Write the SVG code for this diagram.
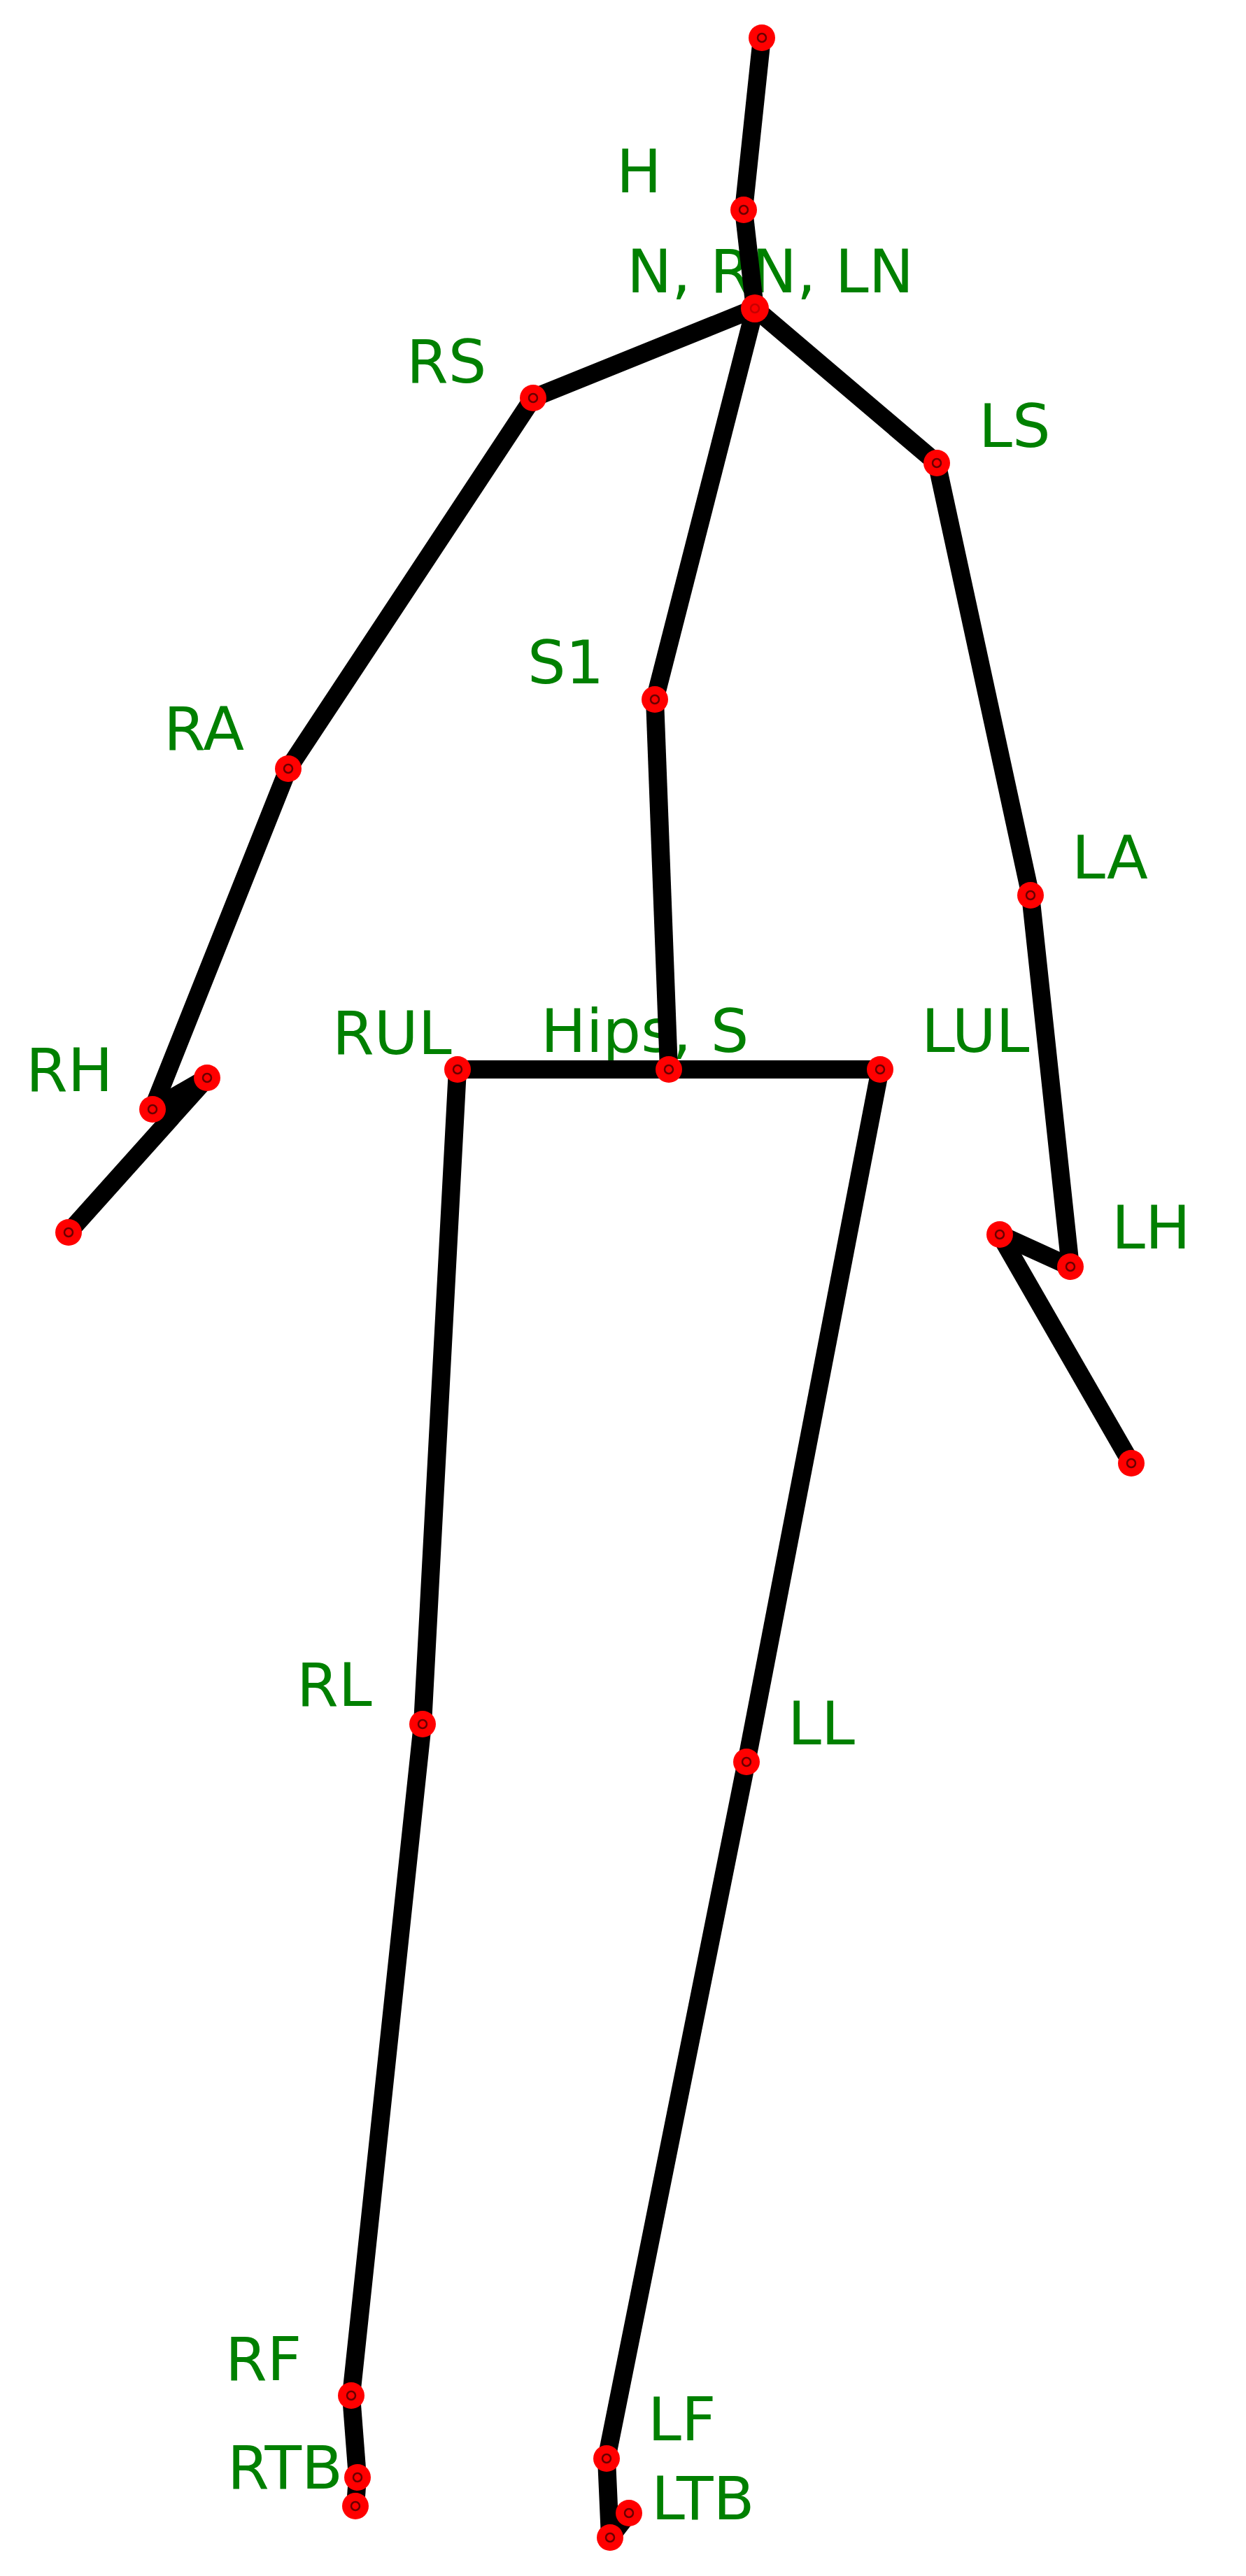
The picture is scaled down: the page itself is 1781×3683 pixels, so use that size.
<svg xmlns="http://www.w3.org/2000/svg" width="1781" height="3683" viewBox="0 0 1781 3683">
<style>
.lbl{font-family:"DejaVu Sans","Liberation Sans",sans-serif;font-size:86px;fill:#008000}
.bone{stroke:#000;stroke-width:26;stroke-linecap:square;fill:none}
.dot{fill:#ff0000}
.ring{fill:none;stroke:#6a0000;stroke-width:2.5}
.ring.faint{stroke:#c80000}
</style>
<defs>
<g id="joint"><circle class="dot" r="19"/><circle class="ring" r="6"/></g>
</defs>
<rect width="1781" height="3683" fill="#fff"/>
<g id="labels">
<text id="label-H" class="lbl" x="881" y="275">H</text>
<text id="label-N" class="lbl" x="896" y="418">N, RN, LN</text>
<text id="label-RS" class="lbl" x="581" y="547">RS</text>
<text id="label-LS" class="lbl" x="1399" y="639">LS</text>
<text id="label-S1" class="lbl" x="754" y="977">S1</text>
<text id="label-RA" class="lbl" x="234" y="1072">RA</text>
<text id="label-LA" class="lbl" x="1532" y="1256">LA</text>
<text id="label-RH" class="lbl" x="37" y="1560">RH</text>
<text id="label-RUL" class="lbl" x="475" y="1507">RUL</text>
<text id="label-Hips" class="lbl" x="773" y="1504">Hips, S</text>
<text id="label-LUL" class="lbl" x="1317" y="1504">LUL</text>
<text id="label-LH" class="lbl" x="1589" y="1785">LH</text>
<text id="label-RL" class="lbl" x="424" y="2439">RL</text>
<text id="label-LL" class="lbl" x="1126" y="2494">LL</text>
<text id="label-RF" class="lbl" x="322" y="3403">RF</text>
<text id="label-RTB" class="lbl" x="325" y="3558">RTB</text>
<text id="label-LF" class="lbl" x="926" y="3489">LF</text>
<text id="label-LTB" class="lbl" x="931" y="3602">LTB</text>
</g>
<g id="connectors" class="bone">
<line x1="1079" y1="441" x2="1063" y2="300"/>
<line x1="1063" y1="300" x2="1089" y2="54"/>
<line x1="1079" y1="441" x2="762" y2="569"/>
<line x1="762" y1="569" x2="412" y2="1099"/>
<line x1="412" y1="1099" x2="218" y2="1586"/>
<line x1="218" y1="1586" x2="296" y2="1541"/>
<line x1="296" y1="1541" x2="98" y2="1762"/>
<line x1="1079" y1="441" x2="1339" y2="662"/>
<line x1="1339" y1="662" x2="1473" y2="1280"/>
<line x1="1473" y1="1280" x2="1530" y2="1811"/>
<line x1="1530" y1="1811" x2="1429" y2="1765"/>
<line x1="1429" y1="1765" x2="1617" y2="2092"/>
<line x1="1079" y1="441" x2="936" y2="1000"/>
<line x1="936" y1="1000" x2="956" y2="1529"/>
<line x1="956" y1="1529" x2="654" y2="1529"/>
<line x1="956" y1="1529" x2="1258" y2="1529"/>
<line x1="654" y1="1529" x2="604" y2="2465"/>
<line x1="604" y1="2465" x2="502" y2="3425"/>
<line x1="502" y1="3425" x2="511" y2="3542"/>
<line x1="511" y1="3542" x2="508" y2="3583"/>
<line x1="1258" y1="1529" x2="1067" y2="2519"/>
<line x1="1067" y1="2519" x2="867" y2="3515"/>
<line x1="867" y1="3515" x2="872" y2="3628"/>
<line x1="872" y1="3628" x2="899" y2="3593"/>
</g>
<g id="node-top"><use href="#joint" x="1089" y="54"/></g>
<g id="node-H"><use href="#joint" x="1063" y="300"/></g>
<g id="node-N"><circle class="dot" cx="1079" cy="441" r="20"/><circle class="ring faint" cx="1079" cy="441" r="6"/></g>
<g id="node-RS"><use href="#joint" x="762" y="569"/></g>
<g id="node-RA"><use href="#joint" x="412" y="1099"/></g>
<g id="node-RH"><use href="#joint" x="218" y="1586"/></g>
<g id="node-RH2"><use href="#joint" x="296" y="1541"/></g>
<g id="node-RH3"><use href="#joint" x="98" y="1762"/></g>
<g id="node-LS"><use href="#joint" x="1339" y="662"/></g>
<g id="node-LA"><use href="#joint" x="1473" y="1280"/></g>
<g id="node-LH"><use href="#joint" x="1530" y="1811"/></g>
<g id="node-LH2"><use href="#joint" x="1429" y="1765"/></g>
<g id="node-LH3"><use href="#joint" x="1617" y="2092"/></g>
<g id="node-S1"><use href="#joint" x="936" y="1000"/></g>
<g id="node-Hips"><use href="#joint" x="956" y="1529"/></g>
<g id="node-RUL"><use href="#joint" x="654" y="1529"/></g>
<g id="node-LUL"><use href="#joint" x="1258" y="1529"/></g>
<g id="node-RL"><use href="#joint" x="604" y="2465"/></g>
<g id="node-RF"><use href="#joint" x="502" y="3425"/></g>
<g id="node-RTB"><use href="#joint" x="511" y="3542"/></g>
<g id="node-RTB2"><use href="#joint" x="508" y="3583"/></g>
<g id="node-LL"><use href="#joint" x="1067" y="2519"/></g>
<g id="node-LF"><use href="#joint" x="867" y="3515"/></g>
<g id="node-LTB"><use href="#joint" x="899" y="3593"/></g>
<g id="node-LTB2"><use href="#joint" x="872" y="3628"/></g>
</svg>
